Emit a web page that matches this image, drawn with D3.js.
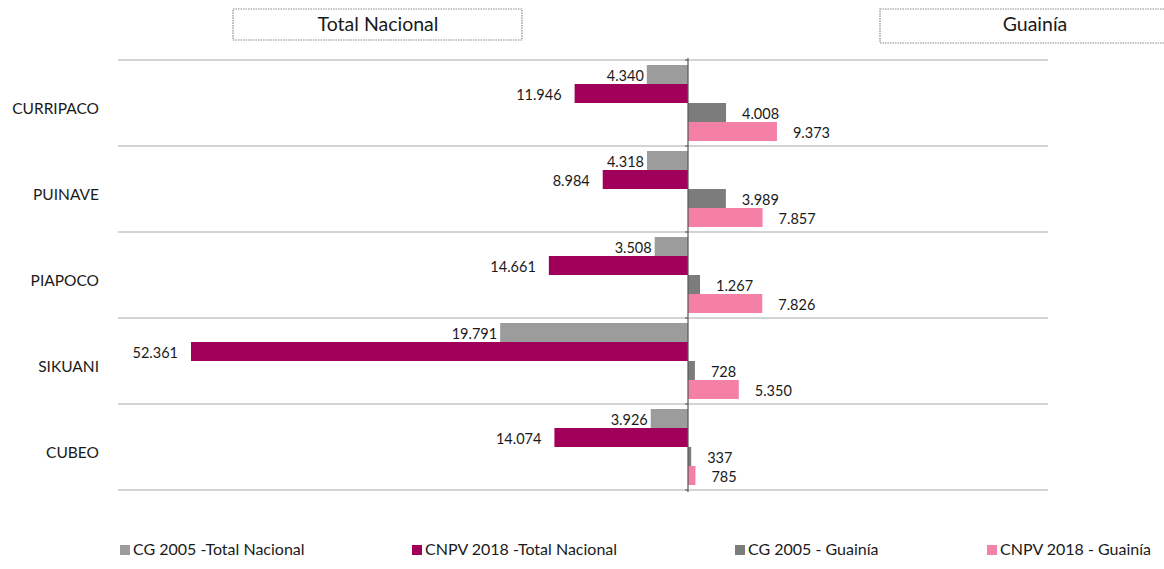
<!DOCTYPE html>
<html>
<head>
<meta charset="utf-8">
<script src="https://cdn.jsdelivr.net/npm/d3@7"></script>
<style>
  body { margin: 0; background: #fff; }
  text { font-family: Lato, "Open Sans", sans-serif; fill: #1a1a1a; }
</style>
</head>
<body>
<div id="chart"></div>
<script>
// pueblos indigenas - Total Nacional vs Guainia
var categories = ["CURRIPACO", "PUINAVE", "PIAPOCO", "SIKUANI", "CUBEO"];
var series = ["CG 2005 -Total Nacional", "CNPV 2018 -Total Nacional", "CG 2005 - Guainía", "CNPV 2018 - Guainía"];
var cg2005Nacional = [4340, 4318, 3508, 19791, 3926];
var cnpv2018Nacional = [11946, 8984, 14661, 52361, 14074];
var cg2005Guainia = [4008, 3989, 1267, 728, 337];
var cnpv2018Guainia = [9373, 7857, 7826, 5350, 785];
var colors = ["#9c9c9c", "#a0005a", "#7c7c7c", "#f480a6"];
var panelTitles = ["Total Nacional", "Guainía"];

var width = 1164, height = 569;
var fmt = d3.formatLocale({decimal: ",", thousands: ".", grouping: [3]}).format(",");

var svg = d3.select("#chart")
    .append("svg")
    .attr("width", width)
    .attr("height", height);

// negative side = total nacional, positive side = guainia
var x = d3.scaleLinear()
    .domain([-52361, 0])
    .range([191, 688]);
var y = d3.scaleBand()
    .domain(categories)
    .range([60, 490]);
var inner = d3.scaleBand()
    .domain(series)
    .range([5, y.bandwidth() - 5]);

// gridlines between rows
var lines = d3.range(categories.length + 1).map(function (i) { return 60 + i * y.bandwidth(); });
svg.append("g")
    .selectAll("line")
    .data(lines).enter()
    .append("line")
    .attr("x1", 118)
    .attr("x2", 1048)
    .attr("y1", function (d) { return d; })
    .attr("y2", function (d) { return d; })
    .style("stroke", "#c6c6c6")
    .style("stroke-width", 1.5);

var rows = [];
categories.forEach(function (c, i) {
    rows.push({cat: c, s: 0, v: -cg2005Nacional[i]});
    rows.push({cat: c, s: 1, v: -cnpv2018Nacional[i]});
    rows.push({cat: c, s: 2, v: cg2005Guainia[i]});
    rows.push({cat: c, s: 3, v: cnpv2018Guainia[i]});
});

svg.append("g")
    .selectAll("rect")
    .data(rows).enter()
    .append("rect")
    .attr("x", function (d) { return Math.min(x(d.v), x(0)); })
    .attr("y", function (d) { return y(d.cat) + inner(series[d.s]); })
    .attr("width", function (d) { return Math.abs(x(d.v) - x(0)); })
    .attr("height", inner.bandwidth())
    .attr("fill", function (d) { return colors[d.s]; });

svg.append("g")
    .selectAll("text")
    .data(rows).enter()
    .append("text")
    .attr("x", function (d) {
        if (d.s == 0) return x(d.v) - 3;
        if (d.s == 1) return x(d.v) - 13;
        return x(d.v) + 16;
    })
    .attr("y", function (d) { return y(d.cat) + inner(series[d.s]) + inner.bandwidth() / 2 + 3; })
    .attr("dominant-baseline", "middle")
    .attr("text-anchor", function (d) { return d.v < 0 ? "end" : "start"; })
    .style("font-size", "14.5px")
    .text(function (d) { return fmt(Math.abs(d.v)); });

// center axis
svg.append("line")
    .attr("x1", x(0)).attr("x2", x(0))
    .attr("y1", 58).attr("y2", 492)
    .style("stroke", "#555")
    .style("stroke-width", 1.2);
svg.append("g")
    .selectAll("line")
    .data(lines).enter()
    .append("line")
    .attr("x1", x(0) - 3).attr("x2", x(0))
    .attr("y1", function (d) { return d; })
    .attr("y2", function (d) { return d; })
    .style("stroke", "#555");

// categories
svg.append("g")
    .selectAll("text")
    .data(categories).enter()
    .append("text")
    .attr("x", 99)
    .attr("y", function (d) { return y(d) + y.bandwidth() / 2 + 7; })
    .attr("text-anchor", "end")
    .attr("dominant-baseline", "middle")
    .style("font-size", "15.5px")
    .text(function (d) { return d; });

// panel title boxes
var boxes = [{x: 233, w: 289, h: 31, cx: 378}, {x: 880, w: 300, h: 34, cx: 1035}];
boxes.forEach(function (b, i) {
    svg.append("rect")
        .attr("x", b.x).attr("y", 9)
        .attr("width", b.w).attr("height", b.h)
        .attr("fill", "none")
        .style("stroke", "#8a8a8a")
        .style("stroke-width", 1.2)
        .style("stroke-dasharray", "1.5,1");
    svg.append("text")
        .attr("x", b.cx)
        .attr("y", 26)
        .attr("text-anchor", "middle")
        .attr("dominant-baseline", "middle")
        .style("font-size", "19.5px")
        .text(panelTitles[i]);
});

// legend
var legX = [120, 412, 735, 987];
var legend = svg.append("g")
    .selectAll("g")
    .data(series).enter()
    .append("g")
    .attr("transform", function (d, i) { return "translate(" + legX[i] + ",550)"; });
legend.append("rect")
    .attr("x", 0).attr("y", -5)
    .attr("width", 10).attr("height", 10)
    .attr("fill", function (d, i) { return colors[i]; });
legend.append("text")
    .attr("x", 13)
    .attr("y", 1)
    .attr("dominant-baseline", "middle")
    .style("font-size", "16px")
    .text(function (d) { return d; });
</script>
</body>
</html>
